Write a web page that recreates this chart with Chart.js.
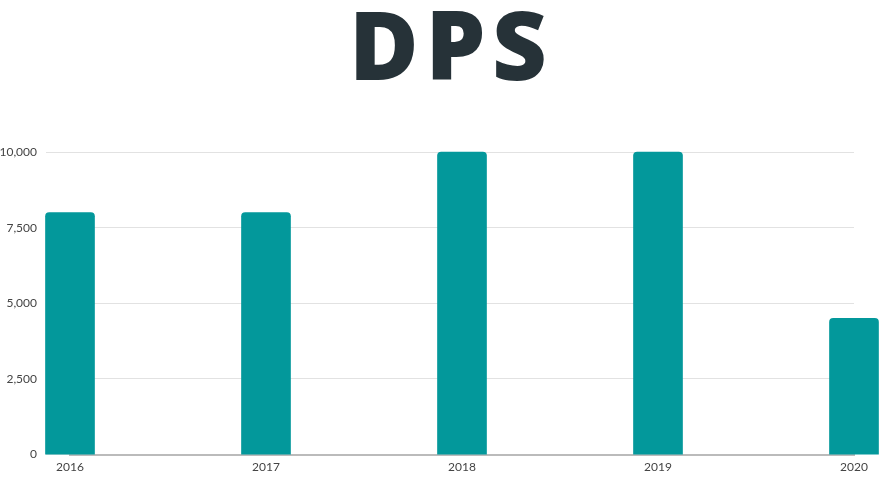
<!DOCTYPE html>
<html>
<head>
  <title>DPS</title>
  <meta name="viewport" content="width=device-width, initial-scale=1">
  <script src="https://cdn.jsdelivr.net/npm/chart.js"></script>
  <style>
    html, body {
      margin: 0;
      padding: 0;
      background: #fff;
      overflow: hidden;
    }
    #wrap {
      position: relative;
      width: 882px;
      height: 479px;
    }
    #title {
      position: absolute;
      top: -14px;
      left: 0;
      width: 882px;
      text-align: center;
      font-family: "Open Sans", Lato, sans-serif;
      font-weight: 800;
      font-size: 95px;
      letter-spacing: 0.07em;
      text-indent: 0.07em;
      color: #263238;
      line-height: 1.2;
      padding-left: 14px;
      box-sizing: border-box;
    }
    canvas {
      position: absolute;
      top: 0;
      left: 0;
    }
  </style>
</head>
<body>

<div id="wrap">
  <canvas id="dps_chart" width="882" height="479"></canvas>
  <div id="title">DPS</div>
</div>

<script>
  // data
  var years = ['2016', '2017', '2018', '2019', '2020'];
  var dps = [8000, 8000, 10000, 10000, 4500];
  var yMin = 0;
  var yMax = 10000;
  var yStep = 2500;

  var ctx = document.getElementById('dps_chart').getContext('2d');
  var dpsChart = new Chart(ctx, {
    type: 'bar',
    data: {
      labels: years,
      datasets: [{
        label: 'DPS',
        data: dps,
        backgroundColor: '#03989b',
        borderRadius: 4,
        barThickness: 49,
        clip: false
      }]
    },
    options: {
      responsive: false,
      animation: false,
      devicePixelRatio: 1,
      layout: {
        padding: { top: 152, right: 28, left: 0, bottom: 0 }
      },
      plugins: {
        legend: { display: false },
        tooltip: { enabled: false }
      },
      scales: {
        x: {
          offset: false,
          grid: { display: false, drawTicks: false },
          border: { color: '#bbbbbb', width: 2 },
          ticks: {
            color: '#444',
            padding: 5,
            font: { family: 'Lato', size: 12 }
          }
        },
        y: {
          min: yMin,
          max: yMax,
          afterFit: function (axis) { axis.width = 70; },
          grid: { color: '#e2e2e2', tickLength: 24 },
          border: { display: false },
          ticks: {
            stepSize: yStep,
            color: '#444',
            padding: 9,
            font: { family: 'Lato', size: 12 }
          }
        }
      }
    }
  });
</script>
</body>
</html>
